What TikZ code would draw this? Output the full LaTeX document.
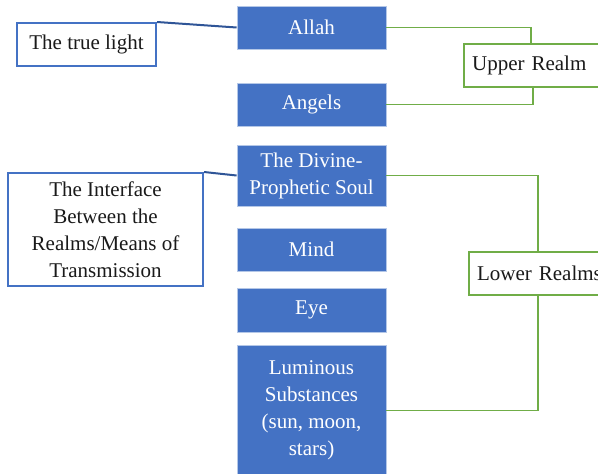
\documentclass[tikz,border=0pt]{standalone}
\usepackage{fontspec}
\setmainfont{Liberation Serif}
\definecolor{bfill}{HTML}{4472C4}
\definecolor{bedge}{HTML}{B4C7E7}
\definecolor{dblue}{HTML}{2F5597}
\definecolor{gr}{HTML}{70AD47}
\definecolor{txt}{HTML}{1A1A1A}
\tikzset{
  bluebox/.style={fill=bfill, draw=bedge, line width=0.8pt, text=white, minimum width=149pt, align=center, inner sep=0pt, font=\fontsize{21}{27}\selectfont},
  bluetext/.style={draw=bfill, line width=2pt, fill=white, text=txt, align=center, inner sep=0pt, font=\fontsize{21}{27}\selectfont},
  greentext/.style={draw=gr, line width=2.2pt, fill=white, text=txt, align=left, inner ysep=0pt, inner xsep=8pt, anchor=west, minimum height=43pt, text width=150pt, font=\fontsize{21}{27}\selectfont},
  bline/.style={draw=dblue, line width=2pt},
  gline/.style={draw=gr, line width=1.1pt}
}
\begin{document}
\begin{tikzpicture}[x=1pt, y=-1pt]
\useasboundingbox (0,0) rectangle (598,474);
\clip (0,0) rectangle (598,474);
% blue column
\node[bluebox, minimum height=43pt] (allah) at (311.5,27.5) {Allah};
\node[bluebox, minimum height=43pt] (angels) at (311.5,104.5) {Angels};
\node[bluebox, minimum height=61pt] (soul) at (311.5,175.5) {The Divine-\\Prophetic Soul};
\node[bluebox, minimum height=43pt] (mind) at (311.5,249.5) {Mind};
\node[bluebox, minimum height=44pt] (eye) at (311.5,310) {Eye};
\node[bluebox, minimum height=131pt] (lum) at (311.5,410.5) {Luminous\\Substances\\(sun, moon,\\stars)};
% left label boxes
\node[bluetext, minimum width=139pt, minimum height=43pt] (light) at (86.5,44.5) {The true light};
\node[bluetext, minimum width=195pt, minimum height=113pt] (iface) at (105.5,229.5) {The Interface\\Between the\\Realms/Means of\\Transmission};
% right realm boxes
\node[greentext] (upper) at (463,65.5) {Upper Realm};
\node[greentext] (lower) at (468,273.5) {Lower Realms};
% blue connectors
\draw[bline] (light.north east) -- (allah.west);
\draw[bline] (iface.north east) -- (soul.west);
% green connectors
\coordinate (ut) at ([xshift=68pt]upper.north west);
\coordinate (ub) at ([xshift=70pt]upper.south west);
\coordinate (lt) at ([xshift=70pt]lower.north west);
\coordinate (lb) at ([xshift=70pt]lower.south west);
\draw[gline] (allah.east) -| (ut);
\draw[gline] (angels.east) -| (ub);
\draw[gline] (soul.east) -| (lt);
\draw[gline] (lum.east) -| (lb);
\end{tikzpicture}
\end{document}
